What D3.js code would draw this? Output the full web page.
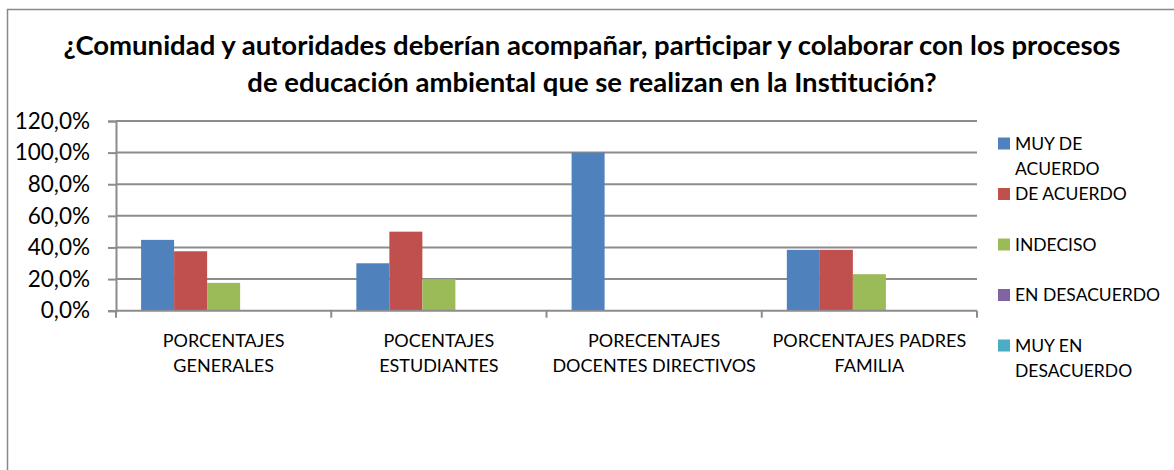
<!DOCTYPE html>
<html>
<head>
<meta charset="utf-8">
<script src="https://cdnjs.cloudflare.com/ajax/libs/d3/7.8.5/d3.min.js"></script>
<style>
  body { margin: 0; background: #fff; }
  text { font-family: Lato, "Open Sans", sans-serif; fill: #000; }
</style>
</head>
<body>
<script>
// data
const categories = ["PORCENTAJES GENERALES", "POCENTAJES ESTUDIANTES", "PORECENTAJES DOCENTES DIRECTIVOS", "PORCENTAJES PADRES FAMILIA"];
const categoryLines = [["PORCENTAJES", "GENERALES"], ["POCENTAJES", "ESTUDIANTES"], ["PORECENTAJES", "DOCENTES DIRECTIVOS"], ["PORCENTAJES PADRES", "FAMILIA"]];
const series = ["MUY DE ACUERDO", "DE ACUERDO", "INDECISO", "EN DESACUERDO", "MUY EN DESACUERDO"];
const seriesLines = [["MUY DE", "ACUERDO"], ["DE ACUERDO"], ["INDECISO"], ["EN DESACUERDO"], ["MUY EN", "DESACUERDO"]];
const muyDeAcuerdo = [0.448, 0.30, 1.00, 0.385];
const deAcuerdo = [0.376, 0.50, 0.0, 0.385];
const indeciso = [0.176, 0.20, 0.0, 0.231];
const enDesacuerdo = [0, 0, 0, 0];
const muyEnDesacuerdo = [0, 0, 0, 0];
const yTicks = [0, 0.2, 0.4, 0.6, 0.8, 1.0, 1.2];
const colors = ["#4F81BD", "#C0504D", "#9BBB59", "#8064A2", "#4BACC6"];
const title = ["¿Comunidad y autoridades deberían acompañar, participar y colaborar con los procesos",
               "de educación ambiental que se realizan en la Institución?"];

const values = [muyDeAcuerdo, deAcuerdo, indeciso, enDesacuerdo, muyEnDesacuerdo];

const width = 1174;
const height = 470;
const plot = {left: 116, right: 977, top: 121, bottom: 310.7};

const svg = d3.select("body").append("svg")
    .attr("width", width)
    .attr("height", height);

// chart frame
svg.append("rect")
    .attr("x", 7.5).attr("y", 9.5)
    .attr("width", 1200).attr("height", 500)
    .attr("fill", "#fff")
    .attr("stroke", "#888").attr("stroke-width", 1.5);

// title
svg.append("g").selectAll("text")
    .data(title)
  .enter().append("text")
    .attr("x", 592)
    .attr("y", (d, i) => 55 + i * 37)
    .attr("text-anchor", "middle")
    .style("font-weight", "bold")
    .style("font-size", "27.5px")
    .text(d => d);

// scales
const x = d3.scaleBand().domain(categories).range([plot.left, plot.right]);
const xs = d3.scaleBand().domain(series).range([0, x.bandwidth()]).paddingOuter(0.76);
const y = d3.scaleLinear().domain([0, 1.2]).range([plot.bottom, plot.top]);

const fmt = d3.formatLocale({decimal: ",", thousands: ".", grouping: [3], currency: ["", ""]}).format(".1%");

// gridlines
svg.append("g").selectAll("line")
    .data(yTicks.slice(1))
  .enter().append("line")
    .attr("x1", plot.left).attr("x2", plot.right)
    .attr("y1", d => y(d)).attr("y2", d => y(d))
    .attr("stroke", "#8c8c8c").attr("stroke-width", 2);

// y axis
const yAxis = svg.append("g")
    .attr("transform", `translate(${plot.left},0)`)
    .call(d3.axisLeft(y).tickValues(yTicks).tickFormat(fmt).tickSize(8).tickPadding(18));
yAxis.select(".domain").attr("stroke", "#8c8c8c").attr("stroke-width", 2);
yAxis.selectAll(".tick line").attr("stroke", "#8c8c8c").attr("stroke-width", 2);
yAxis.selectAll(".tick text").style("font-size", "22.5px").style("font-family", "Lato, sans-serif");

// bars
const groups = svg.append("g").selectAll("g")
    .data(series)
  .enter().append("g")
    .attr("fill", (d, i) => colors[i]);

groups.selectAll("rect")
    .data((s, si) => categories.map((c, ci) => ({s, c, v: values[si][ci]})))
  .enter().append("rect")
    .attr("x", d => x(d.c) + xs(d.s))
    .attr("width", xs.bandwidth())
    .attr("y", d => y(d.v))
    .attr("height", d => y(0) - y(d.v));

// x axis
const xAxis = svg.append("g")
    .attr("transform", `translate(0,${plot.bottom})`);
xAxis.append("line")
    .attr("x1", plot.left).attr("x2", plot.right)
    .attr("stroke", "#8c8c8c").attr("stroke-width", 2);
xAxis.selectAll(".xtick")
    .data(categories.map(c => x(c)).concat([plot.right]))
  .enter().append("line")
    .attr("x1", d => d).attr("x2", d => d)
    .attr("y1", 0).attr("y2", 7)
    .attr("stroke", "#8c8c8c").attr("stroke-width", 2);

const labels = xAxis.selectAll(".xlabel")
    .data(categories)
  .enter().append("text")
    .attr("text-anchor", "middle")
    .style("font-size", "18px");
labels.selectAll("tspan")
    .data((c, i) => categoryLines[i].map(t => ({t, c})))
  .enter().append("tspan")
    .attr("x", d => x(d.c) + x.bandwidth() / 2)
    .attr("y", (d, i) => 36 + i * 25)
    .text(d => d.t);

// legend
const legend = svg.append("g").selectAll("g")
    .data(series)
  .enter().append("g")
    .attr("transform", (d, i) => `translate(998,${143.5 + i * 50.5})`);
legend.append("rect")
    .attr("x", 0).attr("y", -6)
    .attr("width", 12).attr("height", 12)
    .attr("fill", (d, i) => colors[i]);
legend.append("text")
    .style("font-size", "17.5px")
  .selectAll("tspan")
    .data((d, i) => seriesLines[i])
  .enter().append("tspan")
    .attr("x", 17)
    .attr("y", (d, i) => 6 + i * 25)
    .text(d => d);
</script>
</body>
</html>
